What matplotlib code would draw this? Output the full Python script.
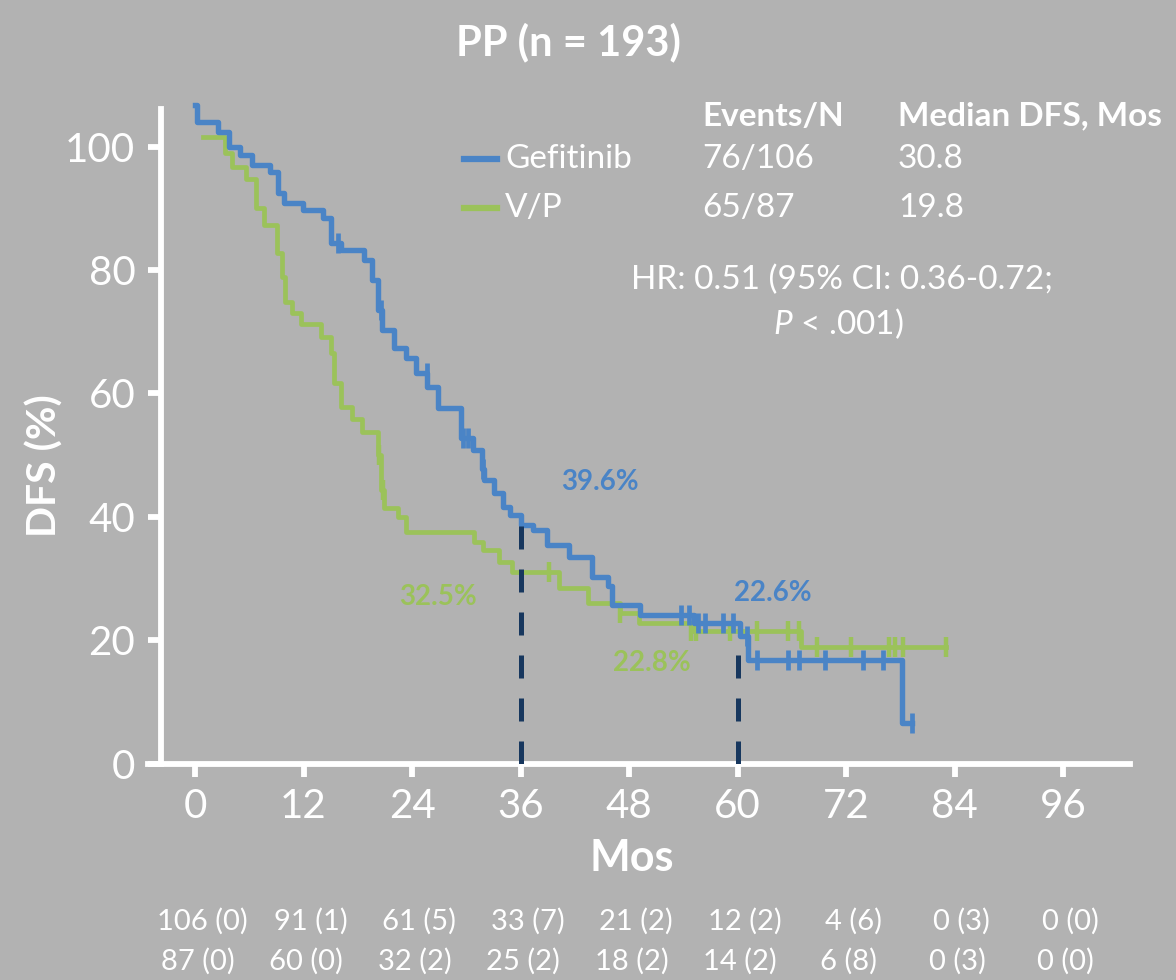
import numpy as np
import matplotlib
matplotlib.use('Agg')
import matplotlib.pyplot as plt
import matplotlib.transforms as mtransforms

plt.rcParams['font.family'] = ['Lato', 'DejaVu Sans']
plt.rcParams['mathtext.fontset'] = 'custom'
plt.rcParams['mathtext.it'] = 'Lato:italic'
plt.rcParams['mathtext.rm'] = 'Lato'

# KM steps (month of drop, level after drop, %)
gef_t = [0, 0.2, 2.5, 3.8, 5.0, 6.3, 8.3, 9.2, 9.8, 11.9, 14.1, 15.0, 16.1, 18.7, 19.6, 20.2, 20.7,
         22.0, 23.3, 24.4, 25.7, 26.9, 29.4, 30.7, 31.7, 32.0, 33.1, 34.1, 34.8, 36.1, 37.4, 38.9,
         41.4, 43.9, 45.7, 46.1, 49.2, 55.2, 60.3, 61.2, 78.2]
gef_s = [106.7, 104.0, 102.4, 100.0, 98.6, 97.0, 95.9, 92.5, 90.8, 89.7, 88.4, 84.4, 83.2, 81.6, 78.4,
         73.5, 70.3, 67.4, 65.8, 63.3, 61.1, 57.6, 52.7, 50.8, 47.8, 45.9, 43.8, 41.6, 40.3, 38.6,
         37.8, 35.4, 33.5, 30.3, 28.7, 25.7, 24.1, 22.8, 20.6, 16.8, 6.5]
gef_end = 79.3
gef_cens = [15.8, 20.6, 25.6, 29.6, 30.2, 31.8, 53.8, 54.6, 55.6, 56.4, 58.4, 59.5,
            61.0, 62.1, 65.6, 66.8, 69.7, 73.9, 76.1, 79.3]

vp_t = [0.9, 3.3, 4.1, 5.6, 6.7, 7.6, 9.1, 9.6, 10.0, 10.7, 11.7, 13.9, 15.0, 15.4, 16.1, 17.4,
        18.5, 20.2, 20.6, 20.9, 22.4, 23.3, 30.9, 31.9, 33.6, 35.0, 40.2, 43.5, 47.0, 49.1, 54.8, 67.0]
vp_s = [101.6, 98.9, 96.7, 94.8, 90.0, 87.3, 82.7, 78.9, 74.8, 73.0, 71.3, 69.2, 66.5, 61.6, 57.8,
        55.9, 53.8, 50.0, 44.3, 41.4, 40.0, 37.6, 35.9, 34.6, 32.7, 31.1, 28.5, 26.0, 24.4, 22.8, 21.4, 18.9]
vp_end = 83.0
vp_cens = [20.3, 20.8, 39.2, 47.0, 54.8, 55.4, 59.2, 62.2, 65.6, 66.8, 68.8, 72.5, 76.7, 77.4, 78.3, 83.0]

x_ticks = [0, 12, 24, 36, 48, 60, 72, 84, 96]
y_ticks = [0, 20, 40, 60, 80, 100]
risk_gef = ['106 (0)', '91 (1)', '61 (5)', '33 (7)', '21 (2)', '12 (2)', '4 (6)', '0 (3)', '0 (0)']
risk_vp = ['87 (0)', '60 (0)', '32 (2)', '25 (2)', '18 (2)', '14 (2)', '6 (8)', '0 (3)', '0 (0)']
landmarks = [36, 60]
landmark_top = [38.6, 19.5]

bg = '#b2b2b2'
blue = '#4a84c6'
green = '#9bc25a'
navy = '#17375e'

W, H = 1176, 980
fig = plt.figure(figsize=(W / 100, H / 100), dpi=100, facecolor=bg)
ax = fig.add_axes([148 / W, (H - 763.5) / H, (1130 - 148) / W, (763.5 - 109.5) / H])
ax.set_facecolor(bg)
ax.set_xlim(-5.2, 103.4)
ax.set_ylim(0, 106)


def step_xy(t, s, end):
    x = list(t) + [end]
    y = list(s) + [s[-1]]
    return x, y


def level_at(t, s, c):
    i = np.searchsorted(t, c, side='right') - 1
    return s[max(i, 0)]


x, y = step_xy(gef_t, gef_s, gef_end)
ax.step(x, y, where='post', color=blue, lw=3.9, clip_on=False, zorder=4)
ax.plot(gef_cens, [level_at(gef_t, gef_s, c) for c in gef_cens], ls='none', marker='|',
        ms=15, mew=3.4, color=blue, clip_on=False, zorder=4)

x, y = step_xy(vp_t, vp_s, vp_end)
ax.step(x, y, where='post', color=green, lw=3.4, clip_on=False, zorder=3)
ax.plot(vp_cens, [level_at(vp_t, vp_s, c) for c in vp_cens], ls='none', marker='|',
        ms=14, mew=3.2, color=green, clip_on=False, zorder=3)

for lm, top in zip(landmarks, landmark_top):
    ax.plot([lm, lm], [0, top], color=navy, lw=3.6, dashes=(4.6, 4.0), zorder=5)

# axes styling
for sp in ['top', 'right']:
    ax.spines[sp].set_visible(False)
ax.spines['left'].set_position(('data', -3.76))
ax.spines['left'].set_bounds(0, 106)
for sp in ['left', 'bottom']:
    ax.spines[sp].set_color('white')
    ax.spines[sp].set_linewidth(4.2)
ax.set_xticks(x_ticks)
ax.set_yticks(y_ticks)
ax.tick_params(axis='both', colors='white', width=4.2, length=9.5, direction='out', labelsize=29)
ax.tick_params(axis='x', pad=8)
ax.tick_params(axis='y', pad=9)

# title & axis labels
fig.text(568 / W, 1 - 42 / H, 'PP (n = 193)', color='white', fontsize=30, fontweight='bold',
         ha='center', va='center')
fig.text(632 / W, 1 - 858 / H, 'Mos', color='white', fontsize=31, fontweight='bold',
         ha='center', va='center')
fig.text(45 / W, 1 - 466 / H, 'DFS (%)', color='white', fontsize=29.5, fontweight='bold',
         ha='center', va='center', rotation=90)

# legend block
fs_leg = 24
fig.text(702 / W, 1 - 116 / H, 'Events/N', color='white', fontsize=fs_leg, fontweight='bold', va='center')
fig.text(898 / W, 1 - 116 / H, 'Median DFS, Mos', color='white', fontsize=fs_leg, fontweight='bold', va='center')
rows = [(159, blue, 'Gefitinib', '76/106', '30.8'), (208, green, 'V/P', '65/87', '19.8')]
for yy, col, name, ev, med in rows:
    fig.add_artist(plt.Line2D([464 / W, 497 / W], [1 - yy / H, 1 - yy / H], color=col, lw=4.5))
    fig.text(505 / W, 1 - yy / H, name, color='white', fontsize=fs_leg, va='center')
    fig.text(702 / W, 1 - yy / H, ev, color='white', fontsize=fs_leg, va='center')
    fig.text(898 / W, 1 - yy / H, med, color='white', fontsize=fs_leg, va='center')
fig.text(842 / W, 1 - 280 / H, 'HR: 0.51 (95% CI: 0.36-0.72;', color='white', fontsize=24,
         ha='center', va='center')
fig.text(838 / W, 1 - 324 / H, r'$\it{P}$ < .001)', color='white', fontsize=24,
         ha='center', va='center')

# landmark labels
fs_lm = 20
fig.text(600 / W, 1 - 482 / H, '39.6%', color=blue, fontsize=fs_lm, fontweight='bold', ha='center', va='center')
fig.text(438 / W, 1 - 597 / H, '32.5%', color=green, fontsize=fs_lm, fontweight='bold', ha='center', va='center')
fig.text(773 / W, 1 - 593 / H, '22.6%', color=blue, fontsize=fs_lm, fontweight='bold', ha='center', va='center')
fig.text(652 / W, 1 - 663 / H, '22.8%', color=green, fontsize=fs_lm, fontweight='bold', ha='center', va='center')

# numbers at risk
trans = mtransforms.blended_transform_factory(ax.transData, fig.transFigure)
for xt, a, b in zip(x_ticks, risk_gef, risk_vp):
    ax.text(xt + 0.8, 1 - 921 / H, a, transform=trans, color='white', fontsize=21, ha='center', va='center')
    ax.text(xt + 0.3, 1 - 961 / H, b, transform=trans, color='white', fontsize=21, ha='center', va='center')

fig.savefig('out.png', dpi=100, facecolor=bg)
